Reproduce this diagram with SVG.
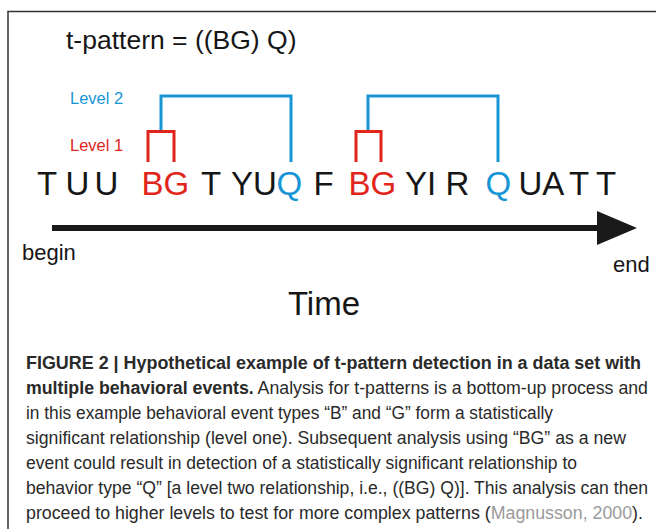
<svg xmlns="http://www.w3.org/2000/svg" width="656" height="529" viewBox="0 0 656 529">
<style>
.lt{font-family:"Liberation Sans",Arial,sans-serif;font-size:33px;fill:#161616}
.red{fill:#e1251b}
.blue{fill:#1796d6}
.br{fill:none;stroke-width:3;stroke-linecap:butt;stroke-linejoin:miter}
.rs{stroke:#e1251b}
.bs{stroke:#1796d6}
.cap{font-family:"Liberation Sans",Arial,sans-serif;font-size:17.5px;fill:#2a2a2a}
.b{font-weight:bold}
</style>
<rect width="656" height="529" fill="#fff"/>
<path d="M8 529 V11.5 H656" fill="none" stroke="#333" stroke-width="1.5"/>
<text x="66" y="49" font-family="Liberation Sans,Arial,sans-serif" font-size="26.5" fill="#161616">t-pattern = ((BG) Q)</text>
<text x="70" y="104" font-family="Liberation Sans,Arial,sans-serif" font-size="16.5" class="blue">Level 2</text>
<text x="70" y="151" font-family="Liberation Sans,Arial,sans-serif" font-size="16.5" class="red">Level 1</text>
<g id="connectors">
<path class="br bs" d="M161 131 V96 H291 V162"/>
<path class="br bs" d="M368 131 V96 H498 V162"/>
<path class="br rs" d="M148 162 V131.5 H174 V162"/>
<path class="br rs" d="M356 162 V131.5 H381 V162"/>
</g>
<g id="sequence">
<text class="lt" y="195"><tspan x="37">T</tspan><tspan x="65.5">U</tspan><tspan x="94.5">U</tspan><tspan x="141.5" class="red">BG</tspan><tspan x="201">T</tspan><tspan x="231">YU</tspan><tspan x="276.5" class="blue">Q</tspan><tspan x="313.5">F</tspan><tspan x="348.5" class="red">BG</tspan><tspan x="405">YI</tspan><tspan x="445.5">R</tspan><tspan x="485.5" class="blue">Q</tspan><tspan x="518.5">UA</tspan><tspan x="569">T</tspan><tspan x="596">T</tspan></text>
</g>
<g id="arrow">
<path d="M52 228 H600" stroke="#1a1a1a" stroke-width="6"/>
<polygon points="597,211 637,228 597,245" fill="#1a1a1a"/>
</g>
<text x="22" y="260" font-family="Liberation Sans,Arial,sans-serif" font-size="22" fill="#161616">begin</text>
<text x="613" y="272" font-family="Liberation Sans,Arial,sans-serif" font-size="22" fill="#161616">end</text>
<text x="324" y="315" text-anchor="middle" font-family="Liberation Sans,Arial,sans-serif" font-size="33" fill="#161616">Time</text>
<g id="caption">
<text class="cap b" x="26" y="369" textLength="615" lengthAdjust="spacingAndGlyphs">FIGURE 2 | Hypothetical example of t-pattern detection in a data set with</text>
<text class="cap" x="26" y="394" textLength="622" lengthAdjust="spacingAndGlyphs"><tspan class="b">multiple behavioral events.</tspan> Analysis for t-patterns is a bottom-up process and</text>
<text class="cap" x="26" y="419" textLength="527" lengthAdjust="spacingAndGlyphs">in this example behavioral event types “B” and “G” form a statistically</text>
<text class="cap" x="26" y="444" textLength="600" lengthAdjust="spacingAndGlyphs">significant relationship (level one). Subsequent analysis using “BG” as a new</text>
<text class="cap" x="26" y="469" textLength="551" lengthAdjust="spacingAndGlyphs">event could result in detection of a statistically significant relationship to</text>
<text class="cap" x="26" y="494" textLength="622" lengthAdjust="spacingAndGlyphs">behavior type “Q” [a level two relationship, i.e., ((BG) Q)]. This analysis can then</text>
<text class="cap" x="26" y="519" textLength="617" lengthAdjust="spacingAndGlyphs">proceed to higher levels to test for more complex patterns (<tspan fill="#9a9a9a">Magnusson, 2000</tspan>).</text>
</g>
</svg>
